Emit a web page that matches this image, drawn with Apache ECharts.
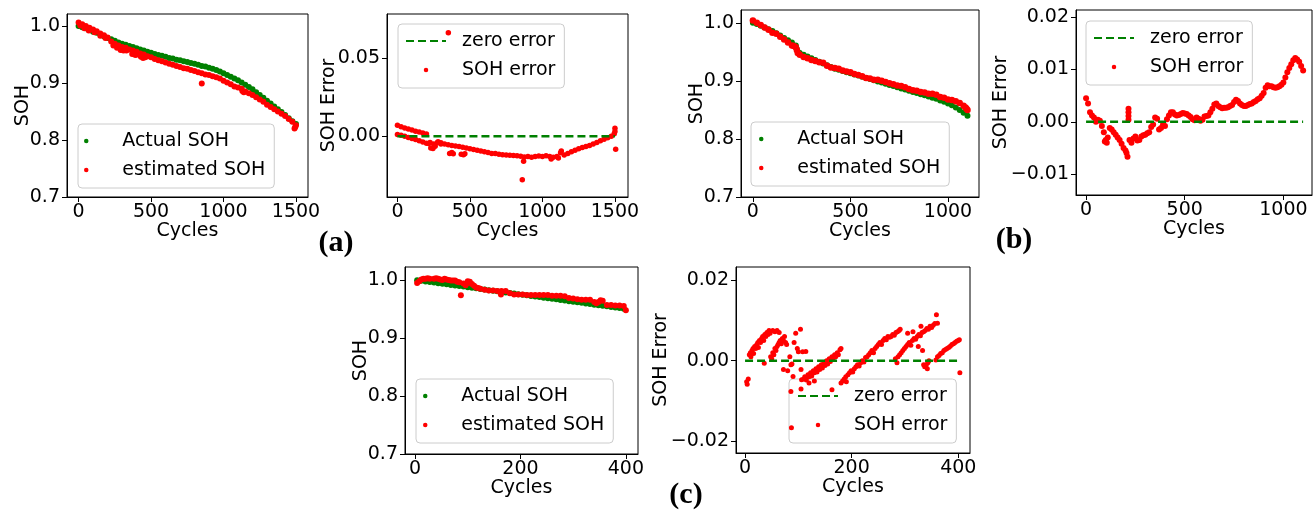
<!DOCTYPE html>
<html><head><meta charset="utf-8">
<script src="https://cdn.jsdelivr.net/npm/echarts@6/dist/echarts.min.js"></script>
<style>html,body{margin:0;padding:0;background:#fff}#c{width:1313px;height:510px}</style>
</head><body><div id="c"></div>
<script>
// ---------- (a) ----------
const cycA = [0,25,50,75,100,125,150,175,200,225,250,275,300,325,350,375,400,425,450,475,500,525,550,575,600,625,650,675,700,725,750,775,800,825,850,875,900,925,950,975,1000,1025,1050,1075,1100,1125,1150,1175,1200,1225,1250,1275,1300,1325,1350,1375,1400,1425,1450,1475,1500];
const actualA = [1.000,0.998,0.996,0.993,0.990,0.988,0.985,0.982,0.979,0.977,0.974,0.971,0.969,0.967,0.965,0.963,0.961,0.959,0.957,0.955,0.953,0.951,0.949,0.948,0.946,0.944,0.943,0.941,0.940,0.938,0.937,0.935,0.934,0.932,0.930,0.929,0.927,0.925,0.923,0.920,0.917,0.914,0.911,0.908,0.905,0.901,0.897,0.893,0.889,0.884,0.879,0.874,0.869,0.864,0.859,0.854,0.849,0.844,0.838,0.833,0.828];
const estA = [1.006,1.003,1.000,0.997,0.994,0.991,0.987,0.984,0.980,0.973,0.969,0.966,0.963,0.962,0.959,0.957,0.955,0.952,0.950,0.947,0.945,0.942,0.940,0.938,0.936,0.934,0.932,0.930,0.928,0.926,0.925,0.923,0.921,0.919,0.917,0.915,0.914,0.912,0.910,0.908,0.904,0.901,0.898,0.894,0.892,0.890,0.885,0.882,0.879,0.875,0.871,0.867,0.862,0.858,0.854,0.850,0.846,0.842,0.837,0.832,0.826];
const estAExtra = [[12,1.001],[40,0.996],[70,0.992],[110,0.989],[150,0.983],[185,0.979],[240,0.966],[265,0.962],[290,0.958],[310,0.957],[330,0.957],[370,0.951],[385,0.950],[395,0.949],[430,0.946],[445,0.944],[460,0.945],[850,0.899],[1130,0.886],[1140,0.884],[1490,0.820],[1495,0.823]];
const errA = [0.007,0.006,0.0052,0.0045,0.004,0.0032,0.0026,0.002,0.0014,-0.004,-0.005,-0.0042,-0.005,-0.005,-0.0055,-0.006,-0.0062,-0.0066,-0.007,-0.0075,-0.008,-0.0085,-0.009,-0.0095,-0.010,-0.0104,-0.011,-0.011,-0.0115,-0.0118,-0.012,-0.0121,-0.0124,-0.0125,-0.0128,-0.0133,-0.013,-0.0135,-0.013,-0.0126,-0.013,-0.0125,-0.013,-0.0135,-0.013,-0.0106,-0.012,-0.011,-0.010,-0.009,-0.008,-0.0072,-0.0066,-0.006,-0.005,-0.004,-0.003,-0.002,-0.001,0.0,0.003];
const errAExtra = [[0,0.001],[25,0.0005],[50,0.0],[75,-0.0008],[100,-0.0015],[125,-0.0022],[150,-0.003],[175,-0.0037],[200,-0.0045],[215,-0.0047],[230,-0.0075],[245,-0.0078],[260,-0.0065],[280,-0.0035],[300,-0.0042],[360,-0.011],[375,-0.0105],[385,-0.0112],[440,-0.0115],[455,-0.0118],[465,-0.0112],[861,-0.0278],[351,0.066],[1505,-0.0083],[1500,0.005],[1495,0.0015],[870,-0.016],[1130,-0.0095],[1110,-0.014],[1060,-0.0145]];
// ---------- (b) ----------
const cycB = [0,20,40,60,80,100,120,140,160,180,200,220,240,260,280,300,320,340,360,380,400,420,440,460,480,500,520,540,560,580,600,620,640,660,680,700,720,740,760,780,800,820,840,860,880,900,920,940,960,980,1000,1020,1040,1060,1080,1100];
const actualB = [1.000,0.998,0.995,0.992,0.989,0.986,0.982,0.978,0.974,0.970,0.966,0.961,0.948,0.945,0.942,0.939,0.936,0.933,0.930,0.927,0.924,0.921,0.919,0.917,0.915,0.913,0.911,0.909,0.907,0.905,0.903,0.901,0.899,0.897,0.895,0.893,0.891,0.889,0.887,0.885,0.883,0.881,0.879,0.877,0.875,0.873,0.871,0.869,0.866,0.864,0.861,0.858,0.854,0.850,0.845,0.840];
const actualBExtra = [[225,0.955],[230,0.950]];
const estB = [1.004,1.000,0.996,0.992,0.988,0.983,0.981,0.976,0.971,0.966,0.961,0.958,0.945,0.941,0.939,0.936,0.934,0.932,0.931,0.926,0.923,0.922,0.921,0.918,0.916,0.915,0.912,0.910,0.908,0.905,0.904,0.902,0.902,0.900,0.898,0.896,0.894,0.892,0.891,0.889,0.886,0.884,0.883,0.881,0.880,0.878,0.878,0.876,0.872,0.871,0.868,0.867,0.865,0.862,0.857,0.850];
const estBExtra = [[210,0.960],[225,0.953],[230,0.948],[1090,0.854],[1095,0.852]];
const errB = [0.0045,0.0018,0.0008,0.0004,-0.0008,-0.0035,-0.0012,-0.002,-0.003,-0.0042,-0.0055,-0.0035,-0.0032,-0.0036,-0.0028,-0.0025,-0.002,-0.0005,0.0006,-0.0012,-0.0008,0.0012,0.0018,0.0012,0.0015,0.0016,0.0012,0.0005,0.0008,0.0002,0.001,0.0012,0.0025,0.0035,0.0028,0.0027,0.0028,0.0032,0.0042,0.0035,0.003,0.0032,0.0035,0.004,0.0045,0.0055,0.007,0.0068,0.0065,0.0068,0.0075,0.0095,0.011,0.0122,0.0115,0.0098];
const errBExtra = [[10,0.0035],[30,0.0012],[50,0.0],[70,0.0002],[90,-0.002],[95,-0.0038],[105,-0.004],[110,-0.003],[130,-0.0015],[150,-0.0025],[170,-0.0035],[190,-0.005],[205,-0.006],[210,-0.0067],[215,0.0025],[215,0.0018],[215,0.0011],[215,0.0004],[230,-0.004],[250,-0.0028],[270,-0.0035],[290,-0.0026],[310,-0.0022],[330,-0.001],[350,0.0008],[370,-0.0015],[390,-0.0005],[410,0.0005],[430,0.0018],[450,0.0014],[470,0.0013],[490,0.0017],[510,0.0015],[530,0.0009],[550,0.0003],[570,0.0006],[590,0.0004],[610,0.0011],[630,0.0018],[650,0.0033],[670,0.003],[690,0.0026],[710,0.0027],[730,0.003],[750,0.0038],[770,0.004],[790,0.0032],[810,0.003],[830,0.0034],[850,0.0038],[870,0.0043],[890,0.005],[910,0.0065],[930,0.0068],[950,0.0066],[970,0.0066],[990,0.0071],[1010,0.0085],[1030,0.0103],[1050,0.0118],[1070,0.0119],[1090,0.0107]];
// ---------- (c) ----------
const cycC = [4,12,20,28,36,44,52,60,68,76,84,92,100,108,116,124,132,140,148,156,164,172,180,188,196,204,212,220,228,236,244,252,260,268,276,284,292,300,308,316,324,332,340,348,356,364,372,380,388,396];
const actualC = [0.9995,0.9985,0.9976,0.9965,0.9956,0.9945,0.9935,0.9926,0.9915,0.9906,0.9895,0.9886,0.9875,0.9865,0.9856,0.9845,0.9836,0.9825,0.9816,0.9805,0.9795,0.9786,0.9775,0.9766,0.9755,0.9746,0.9735,0.9726,0.9715,0.9706,0.9695,0.9686,0.9675,0.9666,0.9655,0.9646,0.9635,0.9626,0.9615,0.9606,0.9595,0.9586,0.9575,0.9566,0.9555,0.9546,0.9535,0.9526,0.9515,0.9505];
const estC = [0.995,1.001,1.002,1.002,1.002,1.002,1.000,1.001,0.999,0.999,0.996,0.994,0.995,0.993,0.987,0.985,0.983,0.982,0.982,0.981,0.981,0.981,0.977,0.975,0.975,0.975,0.974,0.974,0.974,0.974,0.974,0.974,0.973,0.973,0.973,0.972,0.969,0.968,0.967,0.966,0.966,0.966,0.962,0.962,0.964,0.957,0.957,0.956,0.956,0.955];
const estCExtra = [[8,0.998],[16,1.002],[24,1.003],[40,1.003],[48,1.001],[56,1.002],[64,1.0],[72,0.999],[80,0.997],[87,0.9735],[96,0.991],[100,0.998],[104,0.997],[112,0.99],[120,0.986],[163,0.975],[344,0.960],[352,0.965],[400,0.948]];
const errC = [[3,-0.0052],[4,-0.0058],[6,-0.0045],
[8,0.0015],[10,0.002],[11,0.001],[13,0.0025],[15,0.003],[16,0.0018],[18,0.0035],[20,0.003],[22,0.004],[24,0.0045],[25,0.0033],[27,0.005],[29,0.0045],[31,0.0055],[33,0.006],[35,0.005],[37,0.0065],[39,0.006],[41,0.007],[43,0.0065],[45,0.0075],[47,0.0068],[36,-0.0006],
[52,0.0075],[56,0.0072],[60,0.0075],[64,0.007],
[48,0.001],[50,0.0005],[52,0.002],[54,0.0015],[56,0.003],[58,0.0025],[60,0.0035],[62,0.004],[64,0.0045],[66,0.005],[68,0.0042],[70,0.0055],[72,0.005],[74,0.006],[76,0.0045],[78,0.004],
[72,-0.0022],[80,-0.0025],[84,0.001],[86,-0.001],[88,-0.0008],[90,-0.0039],[92,0.0045],[95,0.0068],[98,0.003],[100,0.0022],[104,0.0078],[105,-0.0022],[108,0.0022],[114,0.0023],
[86,-0.0076],[105,-0.007],[163,-0.0072],[87,-0.0166],
[106,-0.0047],[110,-0.0045],[112,-0.004],[115,-0.0048],[118,-0.0035],[120,-0.004],[123,-0.003],[125,-0.0038],[128,-0.0025],[130,-0.003],[133,-0.002],[135,-0.0028],[138,-0.0015],[140,-0.0022],[143,-0.001],[145,-0.0018],[148,-0.0005],[150,-0.0012],[153,0.0],[155,-0.0008],[158,0.0005],[160,-0.0002],[163,0.001],[165,0.0003],[168,0.0015],[170,0.001],[173,0.002],[175,0.0015],[178,0.0027],[120,-0.0055],[130,-0.005],[180,0.003],
[180,-0.0055],[183,-0.005],[186,-0.0045],[189,-0.004],[190,-0.0052],[193,-0.0035],[196,-0.003],[199,-0.0025],[202,-0.0028],[205,-0.002],[208,-0.0015],[211,-0.001],[214,-0.0013],[217,-0.0005],[220,0.0],[223,-0.0003],[226,0.0008],[229,0.001],[232,0.0015],[235,0.002],[238,0.0025],[241,0.002],[244,0.003],[247,0.0035],[250,0.004],[253,0.0045],[256,0.004],[259,0.005],[262,0.0055],[265,0.0052],[268,0.006],[271,0.0058],[274,0.006],[277,0.0065],[280,0.0063],[283,0.007],[286,0.0072],[289,0.0075],[291,0.0078],
[282,0.0005],[285,-0.0005],[287,0.001],[290,0.0015],[293,0.002],[296,0.0025],[299,0.003],[302,0.0035],[305,0.004],[308,0.0045],[311,0.0038],[314,0.005],[317,0.0055],[320,0.0053],[323,0.006],[326,0.0065],[329,0.0062],[332,0.007],[335,0.0072],[338,0.0075],[341,0.008],[344,0.0078],[347,0.0085],[350,0.0082],[353,0.0088],[356,0.0092],[359,0.0114],[361,0.0093],[305,0.0068],[315,0.0072],[330,0.0085],[333,0.0025],[325,0.0035],
[335,-0.001],[337,-0.0015],[340,-0.001],[342,-0.002],[343,-0.0005],[345,0.0],
[358,0.0002],[361,0.001],[364,0.0013],[367,0.0018],[370,0.002],[373,0.0025],[376,0.0028],[379,0.003],[382,0.0033],[385,0.0036],[388,0.004],[391,0.0042],[394,0.0045],[397,0.0048],[400,0.005],[402,0.0052],[403,-0.003]];
// zero-error reference spans
const zeroA = [[0,0],[1500,0]];
const zeroB = [[0,0],[1100,0]];
const zeroC = [[0,0],[400,0]];
// tick values
const ticksXA = [0,500,1000,1500];
const ticksXB = [0,500,1000];
const ticksXC = [0,200,400];
const ticksSOH = [0.7,0.8,0.9,1.0];
const ticksErrA = [0.00,0.05];
const ticksErrB = [-0.01,0.00,0.01,0.02];
const ticksErrC = [-0.02,0.00,0.02];

const FONT = 'DejaVu Sans';
const GREEN = '#008000', RED = '#ff0000';
const grids = [
  {left:67, top:14, width:241, height:183},
  {left:387, top:14, width:241, height:183},
  {left:741, top:10, width:238, height:187},
  {left:1076, top:10, width:236, height:185},
  {left:405, top:267, width:233, height:187},
  {left:736, top:267, width:234, height:186}
].map(g => Object.assign({show:true, borderColor:'#000', borderWidth:1, containLabel:false}, g));

const tstyle = {color:'#000', fontSize:19, fontFamily:FONT};
function fmt(v, d){ const s = Math.abs(v) < 1e-12 ? (0).toFixed(d) : v.toFixed(d); return s.replace('-', '\u2212'); }
function xAx(i, min, max, ticks){
  return {type:'value', gridIndex:i, min, max,
    axisLine:{show:true, onZero:false, lineStyle:{color:'#000', width:1}},
    axisTick:{show:true, length:5, customValues:ticks, lineStyle:{color:'#000'}},
    axisLabel:Object.assign({customValues:ticks, margin:6, formatter:v=>String(Math.round(v))}, tstyle),
    splitLine:{show:false}, name:'Cycles', nameLocation:'middle', nameGap:25, nameMoveOverlap:false, nameTextStyle:tstyle};
}
function yAx(i, min, max, ticks, d, name, gap){
  return {type:'value', gridIndex:i, min, max,
    axisLine:{show:true, onZero:false, lineStyle:{color:'#000', width:1}},
    axisTick:{show:true, length:5, customValues:ticks, lineStyle:{color:'#000'}},
    axisLabel:Object.assign({customValues:ticks, margin:7, formatter:v=>fmt(v,d)}, tstyle),
    splitLine:{show:false}, name, nameLocation:'middle', nameGap:gap, nameMoveOverlap:false, nameTextStyle:tstyle};
}
const xAxes = [xAx(0,-80,1583,ticksXA), xAx(1,-72,1590,ticksXA), xAx(2,-61,1159,ticksXB), xAx(3,-51,1145,ticksXB), xAx(4,-19,423,ticksXC), xAx(5,-17,422,ticksXC)];
const yAxes = [yAx(0,0.7,1.0211,ticksSOH,1,'SOH',34), yAx(1,-0.0388,0.0779,ticksErrA,2,'SOH Error',48), yAx(2,0.7,1.022,ticksSOH,1,'SOH',34), yAx(3,-0.01402,0.0214,ticksErrB,2,'SOH Error',65), yAx(4,0.7,1.0224,ticksSOH,1,'SOH',34), yAx(5,-0.02285,0.0232,ticksErrC,2,'SOH Error',65)];

function pairs(c, v){ return c.map((x,i)=>[x, v[i]]); }
function sc(name, i, data, color, size){
  return {type:'scatter', name, xAxisIndex:i, yAxisIndex:i, data, symbol:'circle', symbolSize:size, itemStyle:{color, opacity:1}, z:10, silent:true, animation:false};
}
function zl(i, data){
  return {type:'line', name:'zero error', xAxisIndex:i, yAxisIndex:i, data, symbol:'none', showSymbol:false, lineStyle:{color:GREEN, width:2.5, type:[8,4]}, itemStyle:{color:GREEN}, z:11, silent:true, animation:false};
}
const series = [
  sc('Actual SOH',0,pairs(cycA,actualA),GREEN,6),
  sc('estimated SOH',0,pairs(cycA,estA).concat(estAExtra),RED,6),
  zl(1,zeroA),
  sc('SOH error',1,pairs(cycA,errA).concat(errAExtra),RED,5.5),
  sc('Actual SOH',2,pairs(cycB,actualB).concat(actualBExtra),GREEN,6),
  sc('estimated SOH',2,pairs(cycB,estB).concat(estBExtra),RED,6.5),
  zl(3,zeroB),
  sc('SOH error',3,pairs(cycB,errB).concat(errBExtra),RED,6),
  sc('Actual SOH',4,pairs(cycC,actualC),GREEN,6),
  sc('estimated SOH',4,pairs(cycC,estC).concat(estCExtra),RED,6),
  zl(5,zeroC),
  sc('SOH error',5,errC,RED,5)
];
function lg(names, left, top, pad){
  return {show:true, orient:'vertical', left, top, data:names, itemWidth:40, itemHeight:4.5, itemGap:7, padding:pad,
    backgroundColor:'rgba(255,255,255,0.8)', borderColor:'#cccccc', borderWidth:1, borderRadius:4, selectedMode:false,
    textStyle:{color:'#000', fontSize:19, fontFamily:FONT, lineHeight:22, padding:[0,0,0,11]}};
}
const sohNames = ['Actual SOH','estimated SOH'];
const errNames = [{name:'zero error', itemStyle:{opacity:0}}, 'SOH error'];
const legends = [lg(sohNames,78,124,[6,9,7,6]), lg(errNames,398,24,[6,9,7,7]), lg(sohNames,751,122,[6,9,7,8]), lg(errNames,1086,21,[6,9,7,7]), lg(sohNames,416,379,[6,9,7,7]), lg(errNames,789,379,[6,9,7,8])];
const panelTags = [['(a)',336,243],['(b)',1014,240],['(c)',686,495]];

const chart = echarts.init(document.getElementById('c'), null, {renderer:'canvas'});
chart.setOption({
  animation:false, backgroundColor:'#fff',
  grid:grids, xAxis:xAxes, yAxis:yAxes, legend:legends, series,
  graphic: panelTags.map(t=>({type:'text', x:t[1], y:t[2], style:{text:t[0], fill:'#000', font:'bold 30px "Liberation Serif"', textAlign:'center', textVerticalAlign:'middle'}}))
});
</script></body></html>
